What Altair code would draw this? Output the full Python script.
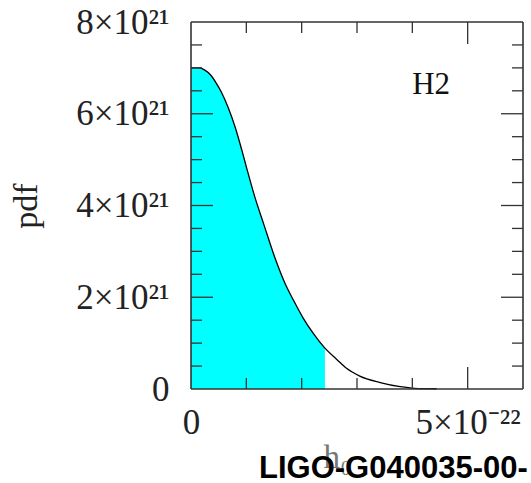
import altair as alt
import pandas as pd

# ---- data (h0 in units of 1e-22, pdf in units of 1e21)
h0_e22 = [0.0, 0.15, 0.25, 0.35, 0.45, 0.55, 0.67, 0.80, 0.92, 1.01, 1.16, 1.31, 1.52,
          1.70, 1.85, 2.03, 2.21, 2.42, 2.63, 2.81, 3.05, 3.42, 3.78, 4.04, 4.44]
pdf_e21 = [7.0, 7.0, 6.95, 6.85, 6.68, 6.47, 6.14, 5.70, 5.20, 4.80, 4.16, 3.61, 2.85,
           2.30, 1.94, 1.54, 1.21, 0.89, 0.65, 0.45, 0.28, 0.14, 0.05, 0.015, 0.005]
upper_limit = 2.42e-22          # end of the shaded region

x_label_values = [0, 5e-22]
y_label_values = [0, 2e21, 4e21, 6e21, 8e21]
x_minor_ticks = [1e-22, 2e-22, 3e-22, 4e-22]
x_major_ticks = [5e-22]
y_minor_ticks = [0.5e21, 1e21, 1.5e21, 2.5e21, 3e21, 3.5e21, 4.5e21, 5e21,
                 5.5e21, 6.5e21, 7e21, 7.5e21]
y_major_ticks = [2e21, 4e21, 6e21]
panel_label = "H2"
panel_label_pos = (4.34e-22, 6.63e21)
watermark = "LIGO-G040035-00-"

curve = pd.DataFrame({"h0": [v * 1e-22 for v in h0_e22],
                      "pdf": [v * 1e21 for v in pdf_e21]})

W, H = 332, 367
SERIF = "Liberation Serif"
FRAME = "#333333"
MINOR, MAJOR = 11, 22

xs = alt.Scale(domain=[0, 6e-22], nice=False, zero=True)
ys = alt.Scale(domain=[0, 8e21], nice=False, zero=True)

x_axis = alt.Axis(
    values=x_label_values, ticks=False, tickSize=0, domain=False, grid=False,
    labelExpr="datum.value == 0 ? '0' : format(datum.value * 1e22, 'd') + '×10⁻²²'",
    labelFont=SERIF, labelFontSize=35, labelColor="#222222", labelPadding=16,
    labelFlush=False, labelOverlap=False,
    title="h₀", titleFont=SERIF, titleFontSize=33, titleFontWeight="normal",
    titleColor="#777777", titleX=146, titleY=52, titleBaseline="top",
    titleAlign="center")
y_axis = alt.Axis(
    values=y_label_values, ticks=False, tickSize=0, domain=False, grid=False,
    labelExpr="datum.value == 0 ? '0' : format(datum.value / 1e21, 'd') + '×10²¹'",
    labelFont=SERIF, labelFontSize=35, labelColor="#222222", labelPadding=22,
    labelOverlap=False,
    title="pdf", titleFont=SERIF, titleFontSize=34, titleFontWeight="normal",
    titleColor="#222222", titleX=-148, titleY=H / 2, titleBaseline="bottom",
    titleAlign="center", titleAngle=270)


def X(field):
    return alt.X(field, scale=xs, axis=x_axis)


def Y(field):
    return alt.Y(field, scale=ys, axis=y_axis)


base = alt.Chart(curve)

area = base.transform_filter(alt.datum.h0 <= upper_limit + 1e-30).mark_area(
    color="#00FFFF", interpolate="monotone"
).encode(x=X("h0:Q"), y=Y("pdf:Q"))

line = base.mark_line(color="black", strokeWidth=1.3, interpolate="monotone").encode(
    x=X("h0:Q"), y=Y("pdf:Q"))


def xticks(vals, length):
    d = alt.Chart(pd.DataFrame({"h0": vals}))
    bottom = d.mark_rule(color=FRAME, strokeWidth=1.3).encode(
        x=X("h0:Q"), y=alt.value(H), y2=alt.value(H - length))
    top = d.mark_rule(color=FRAME, strokeWidth=1.3).encode(
        x=X("h0:Q"), y=alt.value(0), y2=alt.value(length))
    return [bottom, top]


def yticks(vals, length):
    d = alt.Chart(pd.DataFrame({"pdf": vals}))
    left = d.mark_rule(color=FRAME, strokeWidth=1.3).encode(
        y=Y("pdf:Q"), x=alt.value(0), x2=alt.value(length))
    right = d.mark_rule(color=FRAME, strokeWidth=1.3).encode(
        y=Y("pdf:Q"), x=alt.value(W), x2=alt.value(W - length))
    return [left, right]


one = alt.Chart(alt.Data(values=[{}]))
frame = [
    one.mark_rule(color=FRAME, strokeWidth=1.6).encode(x=alt.value(0), y=alt.value(0), y2=alt.value(H)),
    one.mark_rule(color=FRAME, strokeWidth=1.6).encode(x=alt.value(W), y=alt.value(0), y2=alt.value(H)),
    one.mark_rule(color=FRAME, strokeWidth=1.6).encode(y=alt.value(0), x=alt.value(0), x2=alt.value(W)),
    one.mark_rule(color=FRAME, strokeWidth=1.6).encode(y=alt.value(H), x=alt.value(0), x2=alt.value(W)),
]

label = one.mark_text(font=SERIF, fontSize=31, color="#111111", align="center",
                      baseline="middle").encode(
    x=X("h0:Q"), y=Y("pdf:Q"), text=alt.value(panel_label),
).transform_calculate(h0=str(panel_label_pos[0]), pdf=str(panel_label_pos[1]))

mark_wm = one.mark_text(font="Liberation Sans", fontSize=31, fontWeight="bold",
                        color="black", align="left", baseline="alphabetic").encode(
    x=alt.value(68), y=alt.value(456), text=alt.value(watermark))

layers = [area, line] + xticks(x_minor_ticks, MINOR) + xticks(x_major_ticks, MAJOR) \
    + yticks(y_minor_ticks, MINOR) + yticks(y_major_ticks, MAJOR) + frame + [label, mark_wm]

chart = alt.layer(*layers).properties(
    width=W, height=H,
    autosize=alt.AutoSizeParams(type="none"),
    padding={"left": 191, "top": 22, "right": 8, "bottom": 94},
    background="white",
).configure_view(stroke=None)

chart.save("out.html", embed_options={"renderer": "svg", "actions": False})
